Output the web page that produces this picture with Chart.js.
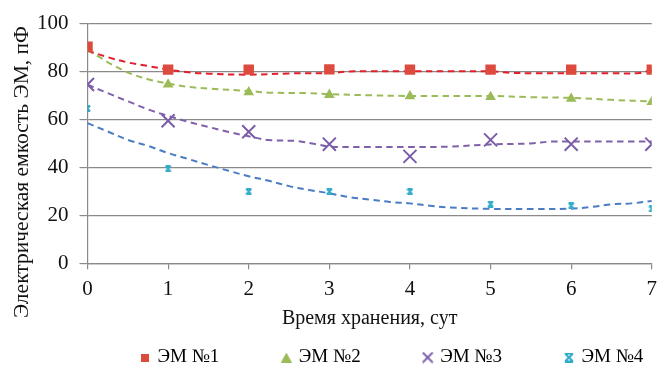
<!DOCTYPE html>
<html>
<head>
<meta charset="utf-8">
<script src="https://cdn.jsdelivr.net/npm/chart.js@4"></script>
<style>
  html, body { margin: 0; padding: 0; background: #fff; }
  #wrap { width: 663px; height: 367px; }
</style>
</head>
<body>
<div id="wrap"><canvas id="c" width="663" height="367"></canvas></div>
<script>
// ---- data ----
const days = [0, 1, 2, 3, 4, 5, 6, 7];
const seriesNames = ['ЭМ №1', 'ЭМ №2', 'ЭМ №3', 'ЭМ №4'];
const em1 = [90.3, 80.8, 80.8, 80.9, 80.8, 80.8, 80.8, 80.8];
const em2 = [89.3, 74.6, 71.4, 70.3, 69.7, 69.4, 68.7, 67.3];
const em3 = [74.6, 59.5, 54.9, 49.7, 44.6, 51.5, 49.7, 49.7];
const em4 = [64.6, 39.4, 29.9, 29.9, 29.9, 24.7, 24.0, 22.7];

// trend lines
const trend1X = [0, 0.25, 0.5, 0.75, 1, 1.25, 1.5, 2, 2.5, 3, 3.25, 3.5, 4, 4.5, 5, 5.25, 5.5, 6, 6.5, 6.85, 7];
const trend1Y = [88.7, 86, 83.8, 82.3, 80.8, 79.7, 79.1, 78.7, 79.2, 79.4, 80, 80.1, 80.1, 80.1, 80.1, 79.5, 79.3, 79.3, 79.3, 79.4, 80.8];
const trend2X = [0, 0.15, 0.3, 0.5, 0.75, 1, 1.25, 1.5, 2, 2.25, 2.75, 3, 3.5, 4, 5, 5.5, 6, 6.5, 7];
const trend2Y = [89, 86, 83, 79.6, 76.8, 75, 73.6, 72.9, 71.9, 71.2, 71, 70.6, 70.1, 69.8, 69.8, 69.3, 69, 68.2, 67.5];
const trend3X = [0, 0.25, 0.5, 0.75, 1, 1.25, 1.5, 1.75, 2, 2.25, 2.6, 2.85, 3, 3.5, 4, 4.5, 5, 5.5, 5.75, 6, 7];
const trend3Y = [74.5, 71, 67.6, 64.2, 61.5, 59, 56.9, 54.8, 53, 51.4, 51, 49.6, 48.7, 48.5, 48.5, 48.7, 49.6, 50, 50.8, 50.8, 50.8];
const trend4X = [0, 0.25, 0.5, 0.75, 1, 1.25, 1.5, 1.75, 2, 2.25, 2.5, 2.75, 3, 3.25, 3.5, 3.75, 4, 4.25, 4.5, 5, 5.5, 6, 6.25, 6.5, 6.75, 7];
const trend4Y = [58.5, 55, 51.5, 49, 46, 43.5, 41, 38.6, 36.3, 34.4, 32.2, 30.6, 29.2, 27.6, 26.6, 25.6, 25, 24, 23.3, 22.7, 22.7, 22.8, 23.5, 24.6, 25, 26];

const xTitle = 'Время хранения, сут';
const yTitle = 'Электрическая емкость ЭМ, пФ';

// ---- styles ----
const cRed = '#dd4b3e', cGreen = '#9bbb59', cPurple = '#7a5ca8', cCyan = '#2faac8';
const tRed = '#e0202c', tGreen = '#9bbb59', tPurple = '#7f60aa', tBlue = '#4a7cc4';
const gridColor = '#8a8a8a';
const FONT = '"Liberation Serif", "Times New Roman", serif';

function pts(xs, ys) { return xs.map((x, i) => ({ x: x, y: ys[i] })); }

function mk(w, h, draw) {
  const c = document.createElement('canvas');
  c.width = w; c.height = h;
  draw(c.getContext('2d'), w, h);
  return c;
}
function starImg(s, lw) {
  return mk(s, s, (g, w, h) => {
    g.strokeStyle = cCyan; g.lineWidth = lw; g.lineCap = 'butt';
    const a = lw / 2, b = s - lw / 2;
    g.beginPath();
    g.moveTo(a, a); g.lineTo(b, b);
    g.moveTo(b, a); g.lineTo(a, b);
    g.moveTo(a, a); g.lineTo(b, a);
    g.moveTo(a, b); g.lineTo(b, b);
    g.stroke();
  });
}
const starPoint = starImg(7, 1.8);
const legendImgs = [
  mk(8, 8, (g) => { g.fillStyle = cRed; g.fillRect(0, 0, 8, 8); }),
  mk(11, 10, (g) => { g.fillStyle = cGreen; g.beginPath(); g.moveTo(5.5, 0); g.lineTo(11, 10); g.lineTo(0, 10); g.closePath(); g.fill(); }),
  mk(12, 12, (g) => { g.strokeStyle = cPurple; g.lineWidth = 1.8; g.beginPath(); g.moveTo(1, 1); g.lineTo(11, 11); g.moveTo(11, 1); g.lineTo(1, 11); g.stroke(); }),
  starImg(10, 2)
];

const trendStyle = (color, xs, ys) => ({
  data: pts(xs, ys), showLine: true, borderColor: color, borderWidth: 2,
  borderDash: [6.5, 4.5], pointRadius: 0, tension: 0.35, fill: false
});

const yTitlePlugin = {
  id: 'yTitle',
  afterDraw(chart) {
    const ctx = chart.ctx;
    ctx.save();
    ctx.font = '21.5px ' + FONT;
    ctx.fillStyle = '#111';
    ctx.translate(28, 172);
    ctx.rotate(-Math.PI / 2);
    ctx.textAlign = 'center';
    ctx.textBaseline = 'alphabetic';
    ctx.fillText(yTitle, 0, 0);
    ctx.restore();
  }
};
const legendPos = {
  id: 'legendPos',
  afterLayout(chart) {
    const lg = chart.legend;
    if (!lg) return;
    lg.left = 78; lg.right = 2000; lg.top = 284; lg.bottom = 380;
  }
};

new Chart(document.getElementById('c'), {
  type: 'scatter',
  data: {
    datasets: [
      { label: seriesNames[0], data: pts(days, em1), pointStyle: 'rect', pointRadius: 7.4, backgroundColor: cRed, borderColor: cRed, borderWidth: 0 },
      { label: seriesNames[1], data: pts(days, em2), pointStyle: 'triangle', pointRadius: 6.2, backgroundColor: cGreen, borderColor: cGreen, borderWidth: 0 },
      { label: seriesNames[2], data: pts(days, em3), pointStyle: 'crossRot', pointRadius: 9.2, backgroundColor: cPurple, borderColor: cPurple, borderWidth: 2 },
      { label: seriesNames[3], data: pts(days, em4), pointStyle: starPoint, pointRadius: 4, backgroundColor: cCyan, borderColor: cCyan },
      trendStyle(tRed, trend1X, trend1Y),
      trendStyle(tGreen, trend2X, trend2Y),
      trendStyle(tPurple, trend3X, trend3Y),
      trendStyle(tBlue, trend4X, trend4Y)
    ]
  },
  options: {
    responsive: false,
    animation: false,
    events: [],
    layout: { padding: { top: 20.7, right: 6.5, left: 0, bottom: 0 } },
    plugins: {
      tooltip: { enabled: false },
      legend: {
        position: 'bottom',
        align: 'start',
        maxHeight: 1,
        labels: {
          usePointStyle: true,
          boxWidth: 6,
          boxHeight: 6,
          padding: 64,
          color: '#111',
          font: { family: FONT, size: 19 },
          generateLabels: () => seriesNames.map((t, i) => ({
            text: t, pointStyle: legendImgs[i], datasetIndex: i,
            fillStyle: '#000', strokeStyle: '#000', lineWidth: 0, hidden: false
          }))
        }
      }
    },
    scales: {
      x: {
        type: 'linear', min: 0, max: 7,
        afterFit: (s) => { s.height = 367 - 1 - 263.3; s.paddingLeft = 0; s.paddingRight = 0; },
        ticks: { stepSize: 1, color: '#111', padding: 7.5, font: { family: FONT, size: 21 } },
        grid: { drawOnChartArea: false, drawTicks: true, tickLength: 6, color: gridColor, lineWidth: 1.2 },
        border: { display: true, color: gridColor, width: 1.2 },
        title: { display: true, text: xTitle, color: '#111', font: { family: FONT, size: 20 }, padding: { top: 0, bottom: 35 } }
      },
      y: {
        min: 0, max: 100,
        afterFit: (s) => { s.width = 87.5; },
        ticks: { stepSize: 20, color: '#111', padding: 11, font: { family: FONT, size: 21 } },
        grid: { color: gridColor, lineWidth: 1.2, drawTicks: true, tickLength: 8 },
        border: { display: true, color: gridColor, width: 1.2 }
      }
    }
  },
  plugins: [yTitlePlugin, legendPos]
});
</script>
</body>
</html>
